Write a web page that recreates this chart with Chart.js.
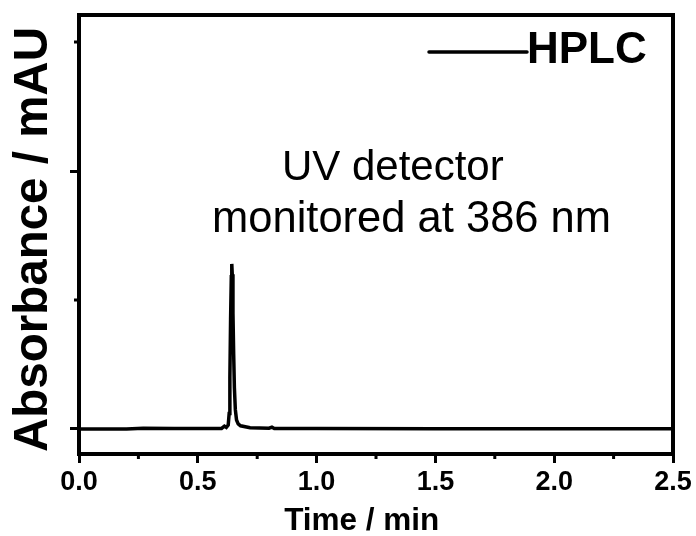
<!DOCTYPE html>
<html>
<head>
<meta charset="utf-8">
<title>HPLC</title>
<script src="https://cdn.jsdelivr.net/npm/chart.js@4.4.0/dist/chart.umd.min.js"></script>
<style>
  html, body { margin: 0; padding: 0; background: #fff; }
  #wrap { width: 696px; height: 536px; }
</style>
</head>
<body>
<div id="wrap"><canvas id="hplcChart" width="696" height="536"></canvas></div>
<script>
// retention time (min) and detector response (arb.)
const times = [0, 0.20, 0.27, 0.40, 0.60, 0.612, 0.620, 0.628, 0.632, 0.635, 0.638, 0.641, 0.643,
    0.645, 0.648, 0.651, 0.654, 0.658, 0.663, 0.670, 0.680, 0.720, 0.800, 0.812, 0.822, 1.0, 1.5, 2.0, 2.5];
const absorbance = [0, 0, 0.006, 0.004, 0.004, 0.022, 0.012, 0.03, 0.12, 0.40, 0.85, 1.18, 1.28,
    1.20, 0.90, 0.58, 0.32, 0.15, 0.07, 0.04, 0.025, 0.01, 0.006, 0.014, 0.004, 0.003, 0.002, 0.002, 0.002];

const xMajorTicks = [0, 0.5, 1.0, 1.5, 2.0, 2.5];
const xMinorTicks = [0.25, 0.75, 1.25, 1.75, 2.25];
const yMajorTicks = [0, 2];
const yMinorTicks = [1, 3];

const seriesLabel = 'HPLC';
const xTitle = 'Time / min';
const yTitle = 'Absorbance / mAU';
const noteLines = ['UV detector', 'monitored at 386 nm'];

(() => {
    const FONT = "'Liberation Sans', Arial, sans-serif";

    // frame, minor ticks, axis titles, legend and the detector note
    const extras = {
        id: 'extras',
        afterDraw(chart) {
            const { ctx, chartArea: a, scales: { x, y } } = chart;
            ctx.save();
            ctx.strokeStyle = '#000';
            ctx.fillStyle = '#000';

            ctx.lineWidth = 4;
            ctx.beginPath();
            ctx.moveTo(a.left - 2, a.top);
            ctx.lineTo(a.right, a.top);
            ctx.lineTo(a.right, a.bottom + 2);
            ctx.stroke();

            ctx.lineWidth = 3;
            ctx.beginPath();
            xMinorTicks.forEach(v => {
                const px = x.getPixelForValue(v);
                ctx.moveTo(px, a.bottom);
                ctx.lineTo(px, a.bottom + 5);
            });
            yMinorTicks.forEach(v => {
                const py = y.getPixelForValue(v);
                ctx.moveTo(a.left, py);
                ctx.lineTo(a.left - 5, py);
            });
            ctx.stroke();

            // axis titles (x one sits a little left of centre)
            ctx.textAlign = 'center';
            ctx.textBaseline = 'alphabetic';
            ctx.font = `bold 31.5px ${FONT}`;
            ctx.fillText(xTitle, x.getPixelForValue(1.19), a.bottom + 76);
            ctx.save();
            ctx.translate(47, (a.top + a.bottom) / 2 + 5);
            ctx.rotate(-Math.PI / 2);
            ctx.font = `bold 47.5px ${FONT}`;
            ctx.fillText(yTitle, 0, 0);
            ctx.restore();

            // legend
            const ds = chart.data.datasets[0];
            const ly = a.top + 37;
            ctx.lineWidth = ds.borderWidth;
            ctx.lineCap = 'round';
            ctx.beginPath();
            ctx.moveTo(a.right - 244, ly);
            ctx.lineTo(a.right - 146, ly);
            ctx.stroke();
            ctx.font = `bold 44px ${FONT}`;
            ctx.textAlign = 'left';
            ctx.textBaseline = 'middle';
            ctx.fillText(ds.label, a.right - 146, ly - 1);

            // detector note
            ctx.textBaseline = 'alphabetic';
            ctx.font = `42px ${FONT}`;
            ctx.fillText(noteLines[0], x.getPixelForValue(0.854), y.getPixelForValue(1.93));
            ctx.font = `43.5px ${FONT}`;
            ctx.fillText(noteLines[1], x.getPixelForValue(0.56), y.getPixelForValue(1.527));
            ctx.restore();
        }
    };

    const el = document.getElementById('hplcChart');
    new Chart(el, {
        type: 'line',
        data: {
            datasets: [{
                label: seriesLabel,
                data: times.map((t, i) => ({ x: t, y: absorbance[i] })),
                borderColor: '#000',
                borderWidth: 3.5,
                pointRadius: 0,
                tension: 0,
                fill: false
            }]
        },
        options: {
            responsive: false,
            animation: false,
            events: [],
            layout: { padding: { top: 15, right: 23, left: 0, bottom: 0 } },
            plugins: { legend: { display: false }, tooltip: { enabled: false } },
            scales: {
                x: {
                    type: 'linear',
                    min: 0,
                    max: 2.5,
                    afterBuildTicks: s => { s.ticks = xMajorTicks.map(v => ({ value: v })); },
                    afterFit: s => { s.height = 82; },
                    ticks: {
                        autoSkip: false,
                        maxRotation: 0,
                        padding: 3,
                        color: '#000',
                        font: { family: FONT, size: 27, weight: 'bold' },
                        callback: v => Number(v).toFixed(1)
                    },
                    grid: { drawOnChartArea: false, tickLength: 9, tickWidth: 3, tickColor: '#000' },
                    border: { width: 4, color: '#000' }
                },
                y: {
                    min: -0.194,
                    max: 3.21,
                    afterBuildTicks: s => { s.ticks = yMajorTicks.map(v => ({ value: v })); },
                    afterFit: s => { s.width = 79; },
                    ticks: { display: false },
                    grid: { drawOnChartArea: false, tickLength: 9, tickWidth: 3, tickColor: '#000' },
                    border: { width: 4, color: '#000' }
                }
            }
        },
        plugins: [extras]
    });
})();
</script>
</body>
</html>
